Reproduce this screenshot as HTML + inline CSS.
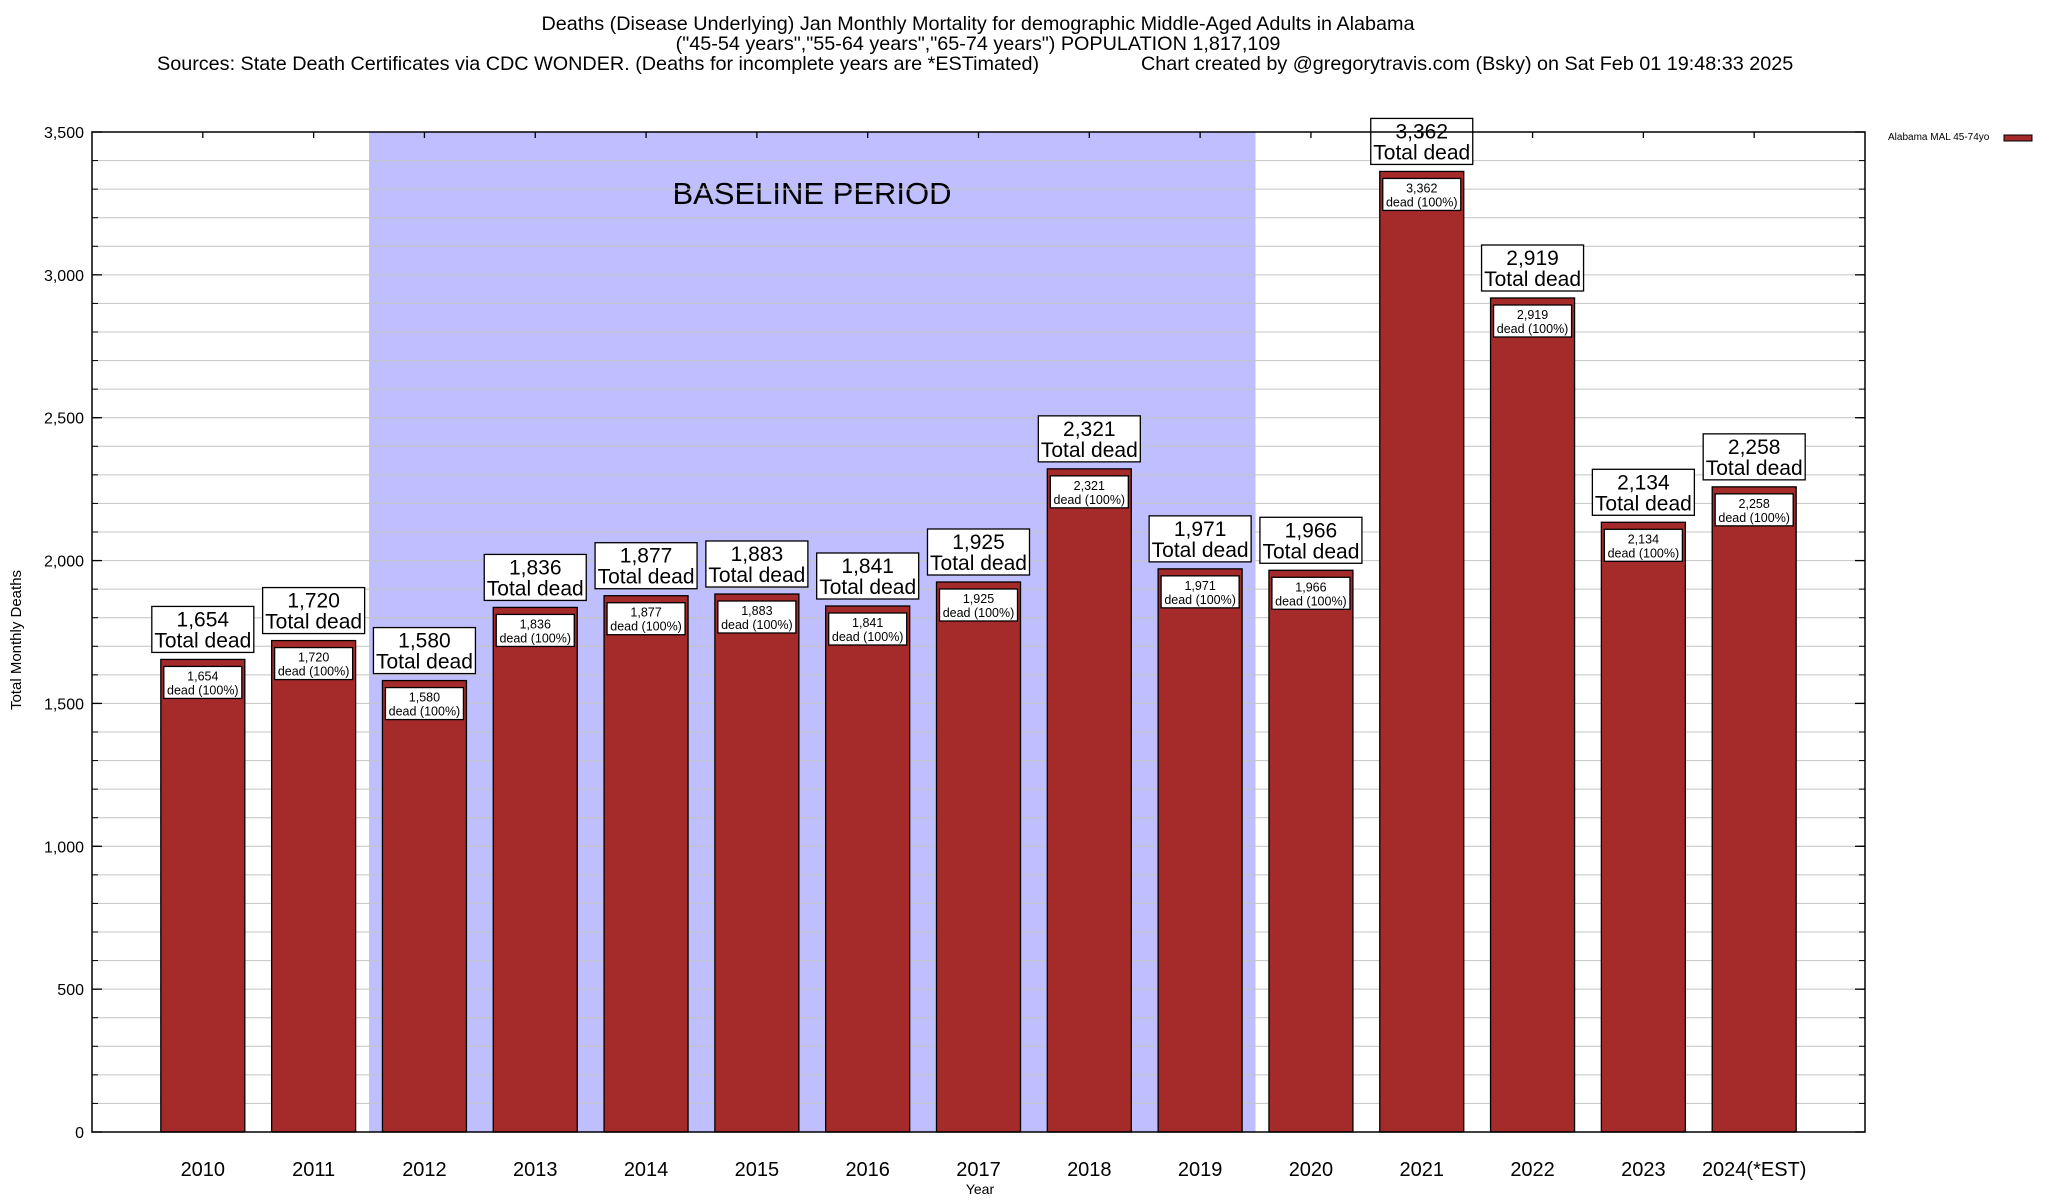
<!DOCTYPE html>
<html><head><meta charset="utf-8"><style>
html,body{margin:0;padding:0;background:#fff;}
svg{display:block;font-family:"Liberation Sans",Arial,sans-serif;}
</style></head><body>
<svg id="chart" width="2048" height="1200" viewBox="0 0 2048 1200" xmlns="http://www.w3.org/2000/svg">
<g font-size="19.8" fill="#000">
<text x="978" y="30" text-anchor="middle">Deaths (Disease Underlying) Jan Monthly Mortality for demographic Middle-Aged Adults in Alabama</text>
<text x="978" y="50" text-anchor="middle">("45-54 years","55-64 years","65-74 years") POPULATION 1,817,109</text>
<text x="157" y="70">Sources: State Death Certificates via CDC WONDER. (Deaths for incomplete years are *ESTimated)</text>
<text x="1141" y="70">Chart created by @gregorytravis.com (Bsky) on Sat Feb 01 19:48:33 2025</text>
</g>
<g id="grid"></g>
<g id="bars"></g>
<g id="axes"></g>
<text x="21" y="640" font-size="15" text-anchor="middle" transform="rotate(-90 21 640)">Total Monthly Deaths</text>
<text x="980" y="1194" font-size="14" text-anchor="middle">Year</text>
<g>
<text x="1888" y="140" font-size="10">Alabama MAL 45-74yo</text>
<rect x="2004" y="135" width="28" height="6" fill="#A52A2A" stroke="#000" stroke-width="1"/>
</g>
</svg>
<script>
const categories = ["2010","2011","2012","2013","2014","2015","2016","2017","2018","2019","2020","2021","2022","2023","2024(*EST)"];
const deaths = [1654,1720,1580,1836,1877,1883,1841,1925,2321,1971,1966,3362,2919,2134,2258];
const yTicks = [0,500,1000,1500,2000,2500,3000,3500];
const yTickLabels = ["0","500","1,000","1,500","2,000","2,500","3,000","3,500"];
const baselineStart = 2012, baselineEnd = 2019;

const NS = "http://www.w3.org/2000/svg";
const L = 92, R = 1865, T = 132, B = 1132, YMAX = 3500;
const step = (R - L) / (categories.length + 1);
function xPos(i){ return L + (i + 1) * step; }
function yPos(v){ return B - v / YMAX * (B - T); }
function mk(tag, attrs, parent){ const e = document.createElementNS(NS, tag); for (const k in attrs) e.setAttribute(k, attrs[k]); parent.appendChild(e); return e; }
const grid = document.getElementById('grid'), bars = document.getElementById('bars'), axes = document.getElementById('axes');

const bi0 = categories.indexOf(String(baselineStart)), bi1 = categories.indexOf(String(baselineEnd));
const band = mk('rect', {x: xPos(bi0) - step/2, y: T, width: (bi1 - bi0 + 1) * step, height: B - T, fill: '#BFBFFF'}, grid);


const bt = mk('text', {x: 812, y: 204, 'font-size': 31, 'text-anchor': 'middle'}, grid);
bt.textContent = 'BASELINE PERIOD';



for (let v = 100; v < YMAX; v += 100) {
  const gl = mk('line', {x1: L, x2: R, y1: yPos(v), y2: yPos(v), stroke: '#C4C4C4', 'stroke-width': 1}, grid);
  
  
  mk('line', {x1: L, x2: L + 6, y1: yPos(v), y2: yPos(v), stroke: '#000'}, grid);
  mk('line', {x1: R - 6, x2: R, y1: yPos(v), y2: yPos(v), stroke: '#000'}, grid);
}

deaths.forEach((d, i) => {
  const cx = xPos(i), w = 84, x0 = cx - w/2, yt = yPos(d);
  const g = mk('g', {}, bars);
  
  
  mk('rect', {x: x0, y: yt, width: w, height: B - yt, fill: '#A52A2A', stroke: '#000', 'stroke-width': 1.3}, g);
  const ib = mk('rect', {x: x0 + 3, y: yt + 7, width: w - 6, height: 32, fill: '#fff', stroke: '#000', 'stroke-width': 1.3}, g);
  
  
  const fmt = d.toLocaleString('en-US');
  const t1 = mk('text', {x: cx, y: yt + 21, 'font-size': 12.5, 'text-anchor': 'middle'}, g); t1.textContent = fmt;
  const t2 = mk('text', {x: cx, y: yt + 35, 'font-size': 12.5, 'text-anchor': 'middle'}, g); t2.textContent = 'dead (100%)';
  const ob = mk('rect', {x: cx - 51, y: yt - 53, width: 102, height: 46, fill: '#fff', stroke: '#000', 'stroke-width': 1.3}, g);
  
  
  const t3 = mk('text', {x: cx, y: yt - 33, 'font-size': 21, 'text-anchor': 'middle'}, g); t3.textContent = fmt;
  const t4 = mk('text', {x: cx, y: yt - 12, 'font-size': 21, 'text-anchor': 'middle'}, g); t4.textContent = 'Total dead';
  const xl = mk('text', {x: cx, y: 1176, 'font-size': 20, 'text-anchor': 'middle'}, axes);
  xl.textContent = categories[i];
  
  
  mk('line', {x1: cx, x2: cx, y1: T, y2: T + 6, stroke: '#000', 'stroke-width': 1.3}, axes);
});

const fr = mk('rect', {x: L, y: T, width: R - L, height: B - T, fill: 'none', stroke: '#000', 'stroke-width': 1.5}, axes);


yTicks.forEach((v, k) => {
  const t = mk('text', {x: 84, y: yPos(v) + 6, 'font-size': 16, 'text-anchor': 'end'}, axes);
  t.textContent = yTickLabels[k];
  
  
  mk('line', {x1: L, x2: L + 10, y1: yPos(v), y2: yPos(v), stroke: '#000', 'stroke-width': 1.3}, axes);
  mk('line', {x1: R - 10, x2: R, y1: yPos(v), y2: yPos(v), stroke: '#000', 'stroke-width': 1.3}, axes);
});
</script>
</body></html>
